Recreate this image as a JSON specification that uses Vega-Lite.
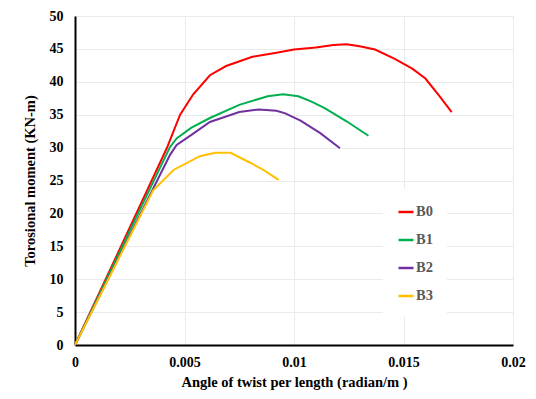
{
  "$schema": "https://vega.github.io/schema/vega-lite/v6.json",
  "width": 438,
  "height": 329,
  "autosize": {"type": "none"},
  "padding": {"left": 75, "top": 16, "right": 23, "bottom": 54},
  "background": "white",
  "config": {
    "view": {"stroke": "#e6e6e6", "strokeWidth": 1},
    "font": "Liberation Serif"
  },
  "data": {
    "values": [
      {"s": "B0", "x": 0, "y": 0},
      {"s": "B0", "x": 0.00419, "y": 29.9},
      {"s": "B0", "x": 0.0048, "y": 35},
      {"s": "B0", "x": 0.0054, "y": 38.1},
      {"s": "B0", "x": 0.00616, "y": 41},
      {"s": "B0", "x": 0.0069, "y": 42.4},
      {"s": "B0", "x": 0.0081, "y": 43.8},
      {"s": "B0", "x": 0.0092, "y": 44.4},
      {"s": "B0", "x": 0.01, "y": 44.9},
      {"s": "B0", "x": 0.011, "y": 45.2},
      {"s": "B0", "x": 0.0118, "y": 45.6},
      {"s": "B0", "x": 0.0124, "y": 45.7},
      {"s": "B0", "x": 0.013, "y": 45.4},
      {"s": "B0", "x": 0.0137, "y": 44.9},
      {"s": "B0", "x": 0.0146, "y": 43.5},
      {"s": "B0", "x": 0.0154, "y": 42},
      {"s": "B0", "x": 0.016, "y": 40.5},
      {"s": "B0", "x": 0.0166, "y": 38},
      {"s": "B0", "x": 0.0172, "y": 35.4},
      {"s": "B1", "x": 0, "y": 0},
      {"s": "B1", "x": 0.00434, "y": 30.1},
      {"s": "B1", "x": 0.00464, "y": 31.4},
      {"s": "B1", "x": 0.0053, "y": 33},
      {"s": "B1", "x": 0.00616, "y": 34.5},
      {"s": "B1", "x": 0.0075, "y": 36.5},
      {"s": "B1", "x": 0.0088, "y": 37.8},
      {"s": "B1", "x": 0.0095, "y": 38.1},
      {"s": "B1", "x": 0.0102, "y": 37.8},
      {"s": "B1", "x": 0.0108, "y": 37},
      {"s": "B1", "x": 0.0114, "y": 36},
      {"s": "B1", "x": 0.0124, "y": 34},
      {"s": "B1", "x": 0.0134, "y": 31.8},
      {"s": "B2", "x": 0, "y": 0},
      {"s": "B2", "x": 0.00434, "y": 28.9},
      {"s": "B2", "x": 0.00464, "y": 30.4},
      {"s": "B2", "x": 0.0053, "y": 31.9},
      {"s": "B2", "x": 0.00616, "y": 33.9},
      {"s": "B2", "x": 0.0075, "y": 35.4},
      {"s": "B2", "x": 0.0084, "y": 35.8},
      {"s": "B2", "x": 0.0092, "y": 35.6},
      {"s": "B2", "x": 0.0096, "y": 35.2},
      {"s": "B2", "x": 0.0103, "y": 34.1},
      {"s": "B2", "x": 0.0112, "y": 32.2},
      {"s": "B2", "x": 0.0121, "y": 29.9},
      {"s": "B3", "x": 0, "y": 0},
      {"s": "B3", "x": 0.00357, "y": 23.5},
      {"s": "B3", "x": 0.0045, "y": 26.6},
      {"s": "B3", "x": 0.0057, "y": 28.7},
      {"s": "B3", "x": 0.0064, "y": 29.2},
      {"s": "B3", "x": 0.0071, "y": 29.2},
      {"s": "B3", "x": 0.008, "y": 27.7},
      {"s": "B3", "x": 0.0086, "y": 26.6},
      {"s": "B3", "x": 0.0093, "y": 25.1}
    ]
  },
  "mark": {"type": "line", "interpolate": "linear", "strokeWidth": 2},
  "encoding": {
    "x": {
      "field": "x",
      "type": "quantitative",
      "scale": {"domain": [0, 0.02], "nice": false},
      "axis": {
        "values": [0, 0.005, 0.01, 0.015, 0.02],
        "labelExpr": "datum.value == 0 ? '0' : format(datum.value, '')",
        "title": "Angle of twist per length (radian/m )",
        "titleFont": "Liberation Serif",
        "titleFontSize": 14.5,
        "titleFontWeight": "bold",
        "titleColor": "#000",
        "titlePadding": 6,
        "labelFont": "Liberation Serif",
        "labelFontSize": 14,
        "labelFontWeight": "bold",
        "labelColor": "#000",
        "labelPadding": 10,
        "ticks": false,
        "domainColor": "#000",
        "domainWidth": 2,
        "gridColor": "#ebebeb",
        "labelFlush": false
      }
    },
    "y": {
      "field": "y",
      "type": "quantitative",
      "scale": {"domain": [0, 50], "nice": false},
      "axis": {
        "values": [0, 5, 10, 15, 20, 25, 30, 35, 40, 45, 50],
        "title": "Torosional moment (KN-m)",
        "titleFont": "Liberation Serif",
        "titleFontSize": 14.5,
        "titleFontWeight": "bold",
        "titleColor": "#000",
        "titlePadding": 12,
        "labelFont": "Liberation Serif",
        "labelFontSize": 14,
        "labelFontWeight": "bold",
        "labelColor": "#000",
        "labelPadding": 12,
        "ticks": false,
        "domainColor": "#000",
        "domainWidth": 2,
        "gridColor": "#ebebeb"
      }
    },
    "color": {
      "field": "s",
      "type": "nominal",
      "scale": {"domain": ["B0", "B1", "B2", "B3"], "range": ["#ff0000", "#00b050", "#7030a0", "#ffc000"]},
      "legend": {
        "orient": "none",
        "legendX": 308,
        "legendY": 173,
        "title": null,
        "fillColor": "white",
        "padding": 14,
        "symbolType": "stroke",
        "symbolSize": 225,
        "symbolStrokeWidth": 2.5,
        "labelFont": "Liberation Serif",
        "labelFontSize": 14.5,
        "labelFontWeight": "bold",
        "labelColor": "#595959",
        "labelOffset": 1,
        "rowPadding": 12
      }
    }
  }
}
